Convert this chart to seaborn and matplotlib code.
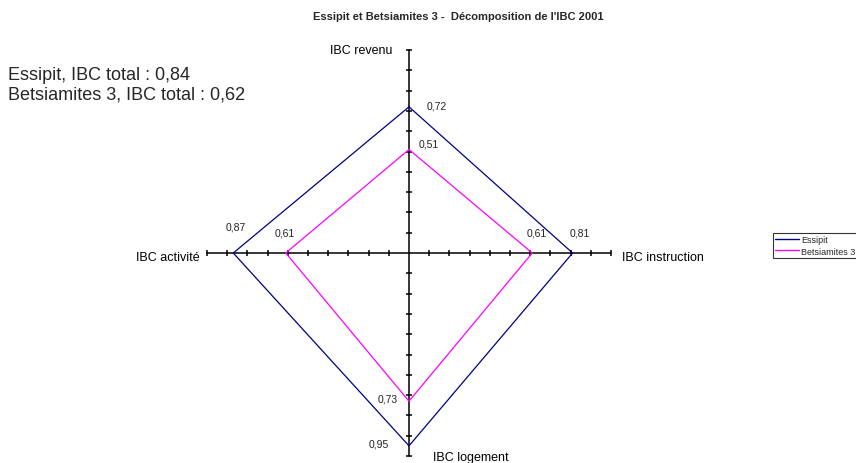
import matplotlib
matplotlib.use('Agg')
import matplotlib.pyplot as plt
import seaborn as sns
import numpy as np
import pandas as pd

# --- Data ---
axes_labels = ['IBC revenu', 'IBC instruction', 'IBC logement', 'IBC activité']
essipit = [0.72, 0.81, 0.95, 0.87]
betsiamites = [0.51, 0.61, 0.73, 0.61]
series_names = ['Essipit', 'Betsiamites 3']
totals = ['0,84', '0,62']
title = "Essipit et Betsiamites 3 -  Décomposition de l'IBC 2001"

# --- Style ---
sns.set_style('white')
plt.rcParams['font.family'] = ['Liberation Sans', 'DejaVu Sans']
colors = {'Essipit': '#000080', 'Betsiamites 3': '#FF00FF'}

# build long table: axes going clockwise from the top
angles = np.deg2rad([0, 90, 180, 270])
rows = []
for name, vals in zip(series_names, [essipit, betsiamites]):
    pts = list(zip(vals, angles, axes_labels))
    pts.append(pts[0])  # close polygon
    for i, (v, a, lab) in enumerate(pts):
        rows.append({'site': name, 'order': i, 'axis': lab, 'value': v,
                     'x': v * np.sin(a), 'y': v * np.cos(a)})
df = pd.DataFrame(rows)

fig = plt.figure(figsize=(8.56, 4.64), dpi=100)
# centre of the radar at pixel (409, 254 from top), ~203 px per unit
sx, sy = 202.0, 203.0
xlim, ylim = 1.2, 1.06
W, H = 856, 464
cx, cy = 409, 464 - 254
ax = fig.add_axes([(cx - xlim * sx) / W, (cy - ylim * sy) / H,
                   2 * xlim * sx / W, 2 * ylim * sy / H])
ax.set_xlim(-xlim, xlim)
ax.set_ylim(-ylim, ylim)
ax.axis('off')

# cross axes with tick marks
ax.plot([-1, 1], [0, 0], color='black', lw=1.1, clip_on=False, zorder=1)
ax.plot([0, 0], [-1, 1], color='black', lw=1.1, clip_on=False, zorder=1)
ticks = np.round(np.arange(0.1, 1.01, 0.1), 2)
for s in (1, -1):
    ax.plot(s * ticks, np.zeros_like(ticks), ls='none', marker='|', ms=5,
            mew=1.1, color='black', clip_on=False, zorder=1)
    ax.plot(np.zeros_like(ticks), s * ticks, ls='none', marker='_', ms=5,
            mew=1.1, color='black', clip_on=False, zorder=1)

sns.lineplot(data=df, x='x', y='y', hue='site', units='site', sort=False,
             estimator=None, palette=colors, lw=0.9, ax=ax, legend=False,
             zorder=3)

# value labels (offsets in points)
offsets = {
    ('Essipit', 'IBC revenu'): (20, 1), ('Betsiamites 3', 'IBC revenu'): (14, 4),
    ('Essipit', 'IBC instruction'): (5, 15), ('Betsiamites 3', 'IBC instruction'): (3, 15),
    ('Essipit', 'IBC logement'): (-22, 2), ('Betsiamites 3', 'IBC logement'): (-15, 2),
    ('Essipit', 'IBC activité'): (2, 19), ('Betsiamites 3', 'IBC activité'): (-1, 15),
}
for _, r in df[df['order'] < 4].iterrows():
    ax.annotate(f"{r['value']:.2f}".replace('.', ','), (r['x'], r['y']),
                xytext=offsets[(r['site'], r['axis'])], textcoords='offset points',
                ha='center', va='center', fontsize=7.5, color='#222222')

# axis category labels
lab_kw = dict(fontsize=9, color='black', va='center')
ax.annotate(axes_labels[0], (0, 1), xytext=(-12, 0), textcoords='offset points', ha='right', **lab_kw)
ax.annotate(axes_labels[1], (1, 0), xytext=(8, -3), textcoords='offset points', ha='left', **lab_kw)
ax.annotate(axes_labels[2], (0, -1), xytext=(17, -1), textcoords='offset points', ha='left', **lab_kw)
ax.annotate(axes_labels[3], (-1, 0), xytext=(-5, -3), textcoords='offset points', ha='right', **lab_kw)

fig.text(458 / W, 1 - 17 / H, title, ha='center', va='center', fontsize=8, fontweight='bold')
for i, (name, tot) in enumerate(zip(series_names, totals)):
    fig.text(8 / W, 1 - (76 + 19 * i) / H, f"{name}, IBC total : {tot}",
             ha='left', va='center', fontsize=13)

handles = [plt.Line2D([], [], color=colors[n], lw=1) for n in series_names]
leg = fig.legend(handles, series_names, loc='upper left', bbox_to_anchor=(773 / W, 1 - 234 / H),
                 fontsize=6.5, frameon=True, fancybox=False, edgecolor='black',
                 handlelength=2.6, handletextpad=0.3, borderpad=0.25, labelspacing=0.25,
                 borderaxespad=0)
leg.get_frame().set_linewidth(0.8)

fig.savefig('out.png', dpi=100)
